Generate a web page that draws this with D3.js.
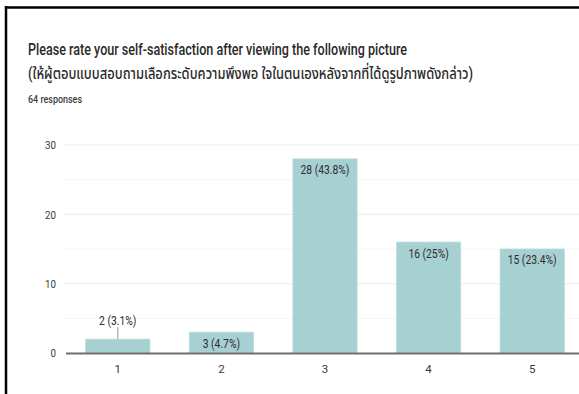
<!DOCTYPE html>
<html>
<head>
<meta charset="utf-8">
<script src="https://cdn.jsdelivr.net/npm/d3@7"></script>
<style>
  html, body { margin: 0; padding: 0; background: #fff; }
  svg { display: block; }
  text { font-family: Roboto, "Noto Sans", "Noto Sans Thai", sans-serif; }
</style>
</head>
<body>
<svg id="chart" width="579" height="394"></svg>
<script>
// Survey answers: rating 1..5 and how many respondents chose each
const categories = ["1", "2", "3", "4", "5"];
const counts = [2, 3, 28, 16, 15];
const percentLabels = ["3.1%", "4.7%", "43.8%", "25%", "23.4%"];
const yTicks = [0, 10, 20, 30];
const yMinorTicks = [5, 15, 25];
const titleLines = [
  "Please rate your self-satisfaction after viewing the following picture",
  "(ให้ผู้ตอบแบบสอบถามเลือกระดับความพึงพอ ใจในตนเองหลังจากที่ได้ดูรูปภาพดังกล่าว)"
];
const responseNote = "64 responses";

const svg = d3.select("#chart");
const W = 579, H = 394;

svg.append("rect").attr("width", W).attr("height", H).attr("fill", "#fff");

// card frame (top and left edges)
svg.append("line").attr("x1", 5).attr("x2", W).attr("y1", 7.5).attr("y2", 7.5)
  .attr("stroke", "#000").attr("stroke-width", 2.5);
svg.append("line").attr("x1", 6).attr("x2", 6).attr("y1", 6).attr("y2", H)
  .attr("stroke", "#000").attr("stroke-width", 2.5);

// heading
svg.append("text").attr("x", 28).attr("y", 55)
  .attr("font-size", 16).attr("font-weight", 500).attr("fill", "#2a2a2a")
  .attr("textLength", 379).attr("lengthAdjust", "spacingAndGlyphs")
  .text(titleLines[0]);
svg.append("text").attr("x", 28).attr("y", 79)
  .attr("font-size", 16).attr("font-weight", 500).attr("fill", "#2a2a2a")
  .attr("textLength", 445).attr("lengthAdjust", "spacingAndGlyphs")
  .text(titleLines[1]);
svg.append("text").attr("x", 28).attr("y", 103)
  .attr("font-size", 11).attr("font-weight", 500).attr("fill", "#3c4043")
  .attr("textLength", 54).attr("lengthAdjust", "spacingAndGlyphs")
  .text(responseNote);

// scales
const plotLeft = 64, plotRight = W;
const x = d3.scaleBand().domain(categories).range([66, 584])
  .paddingInner(0.38).paddingOuter(0.19);
const y = d3.scaleLinear().domain([0, 30]).range([353, 145]);

// gridlines
svg.append("g").selectAll("line").data(yMinorTicks).join("line")
  .attr("x1", plotLeft).attr("x2", plotRight)
  .attr("y1", d => y(d)).attr("y2", d => y(d))
  .attr("stroke", "#f4f4f4").attr("stroke-width", 1);
svg.append("g").selectAll("line").data(yTicks.filter(d => d > 0)).join("line")
  .attr("x1", plotLeft).attr("x2", plotRight)
  .attr("y1", d => y(d)).attr("y2", d => y(d))
  .attr("stroke", "#ebebeb").attr("stroke-width", 1);

// y axis labels
const yAxis = d3.axisLeft(y).tickValues(yTicks).tickSize(0).tickPadding(8);
const gy = svg.append("g").attr("transform", `translate(${plotLeft},0)`).call(yAxis);
gy.select(".domain").remove();
gy.selectAll("text").attr("font-size", 11.5).attr("fill", "#3a3a3a")
  .attr("font-family", "Roboto, sans-serif")
  .attr("transform", "scale(0.85,1)")
  .attr("x", -8 / 0.85);

// bars
const data = categories.map((c, i) => ({ c, v: counts[i], p: percentLabels[i] }));
svg.append("g").selectAll("rect").data(data).join("rect")
  .attr("x", d => x(d.c))
  .attr("width", x.bandwidth())
  .attr("y", d => y(d.v))
  .attr("height", d => y(0) - y(d.v))
  .attr("fill", "#a6d0d1")
  .attr("stroke", "#b9dcdc").attr("stroke-width", 0.8);

// value labels: inside the bar top, or above it with a leader when the bar is short
const lab = svg.append("g");
data.forEach(d => {
  const cx = x(d.c) + x.bandwidth() / 2;
  const top = y(d.v);
  const txt = `${d.v} (${d.p})`;
  const inside = (y(0) - top) >= 18;
  if (inside) {
    lab.append("text").attr("x", cx).attr("y", top + 15.5)
      .attr("text-anchor", "middle").attr("font-size", 12).attr("fill", "#2e2e2e")
      .attr("transform", `translate(${cx * 0.14},0) scale(0.86,1)`)
      .text(txt);
  } else {
    lab.append("line").attr("x1", cx).attr("x2", cx)
      .attr("y1", top - 12).attr("y2", top)
      .attr("stroke", "#999").attr("stroke-width", 1);
    lab.append("text").attr("x", cx).attr("y", top - 14)
      .attr("text-anchor", "middle").attr("font-size", 12).attr("fill", "#2e2e2e")
      .attr("transform", `translate(${cx * 0.14},0) scale(0.86,1)`)
      .text(txt);
  }
});

// x axis baseline and labels
const xAxis = d3.axisBottom(x).tickSize(0).tickPadding(12);
const gx = svg.append("g").attr("transform", `translate(0,${y(0)})`).call(xAxis);
gx.select(".domain").remove();
gx.selectAll("text").attr("font-size", 11.5).attr("fill", "#3a3a3a")
  .attr("font-family", "Roboto, sans-serif");
svg.append("line").attr("x1", 66).attr("x2", W)
  .attr("y1", y(0) + 0.5).attr("y2", y(0) + 0.5)
  .attr("stroke", "#6e6e6e").attr("stroke-width", 1.8);
</script>
</body>
</html>
